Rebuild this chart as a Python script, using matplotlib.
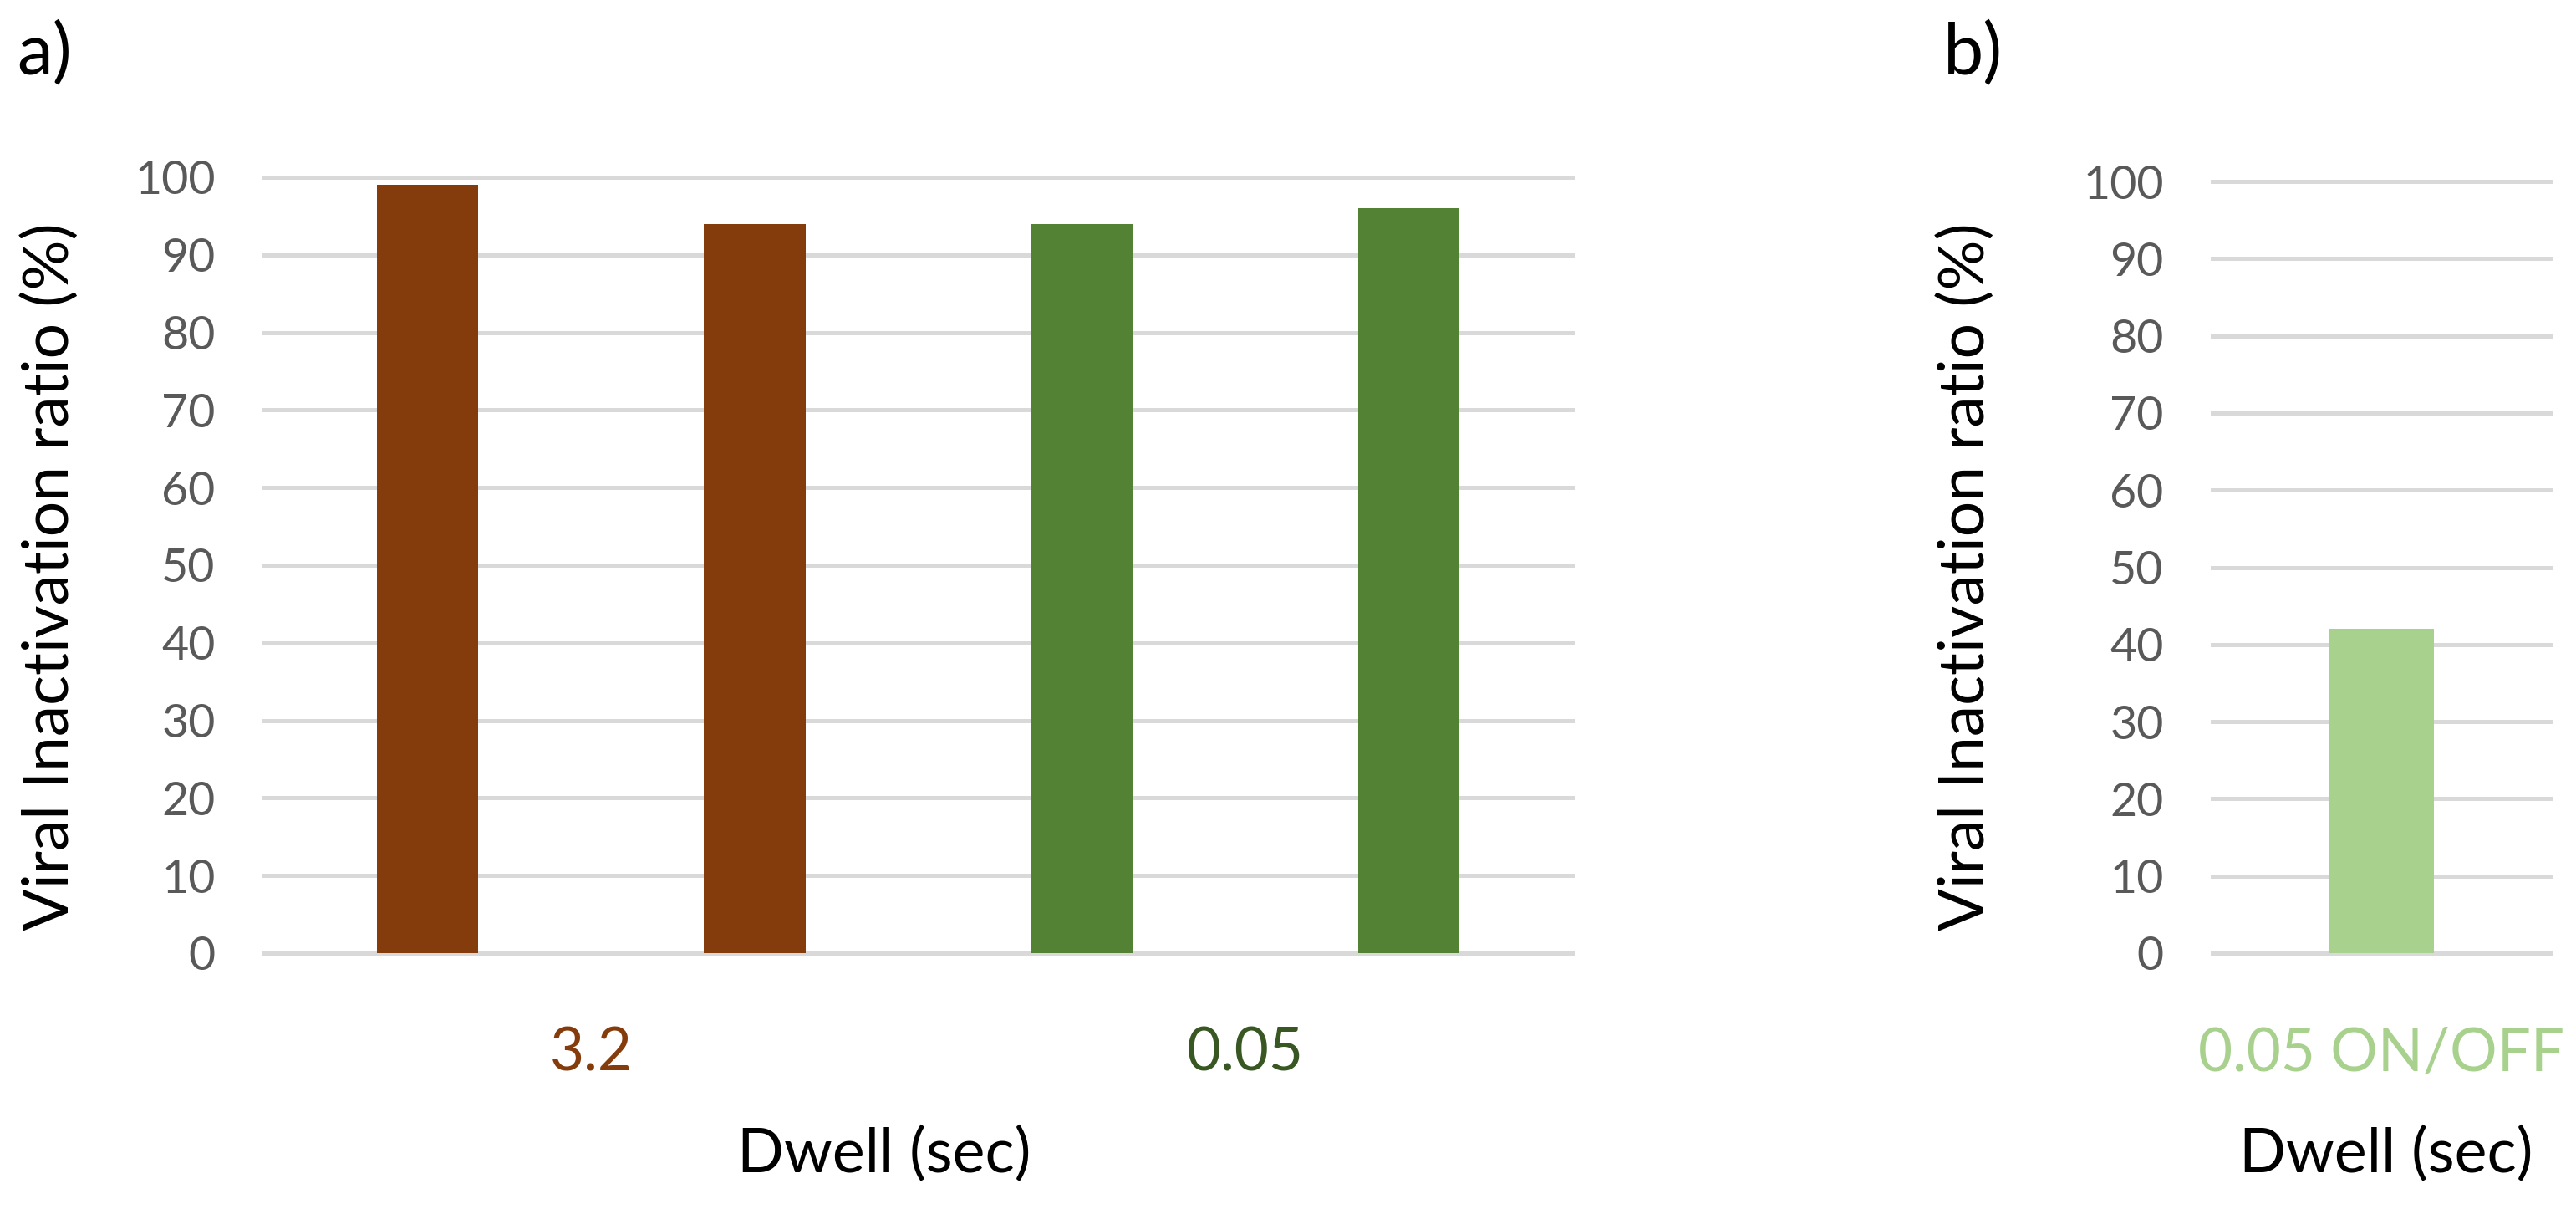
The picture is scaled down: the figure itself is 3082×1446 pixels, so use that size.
"""Viral inactivation ratio vs dwell time, two panels."""
import matplotlib
matplotlib.use('Agg')
import matplotlib.pyplot as plt
import numpy as np

plt.rcParams['font.family'] = ['Lato', 'DejaVu Sans']

# data
dwell_labels = ['3.2', '0.05']
ratio_32 = [99, 94]
ratio_005 = [94, 96]
onoff_label = '0.05 ON/OFF'
ratio_onoff = [42]
yticks = np.arange(0, 101, 10)

BROWN = '#843C0C'
GREEN = '#548235'
DARK_GREEN = '#385723'
LIGHT_GREEN = '#A9D18E'
GRID = '#D9D9D9'
TICK = '#595959'

W, H = 3082, 1446
fig = plt.figure(figsize=(W / 100, H / 100), dpi=100)
ax_a = fig.add_axes([316 / W, 1 - 1140 / H, (1881 - 316) / W, (1140 - 212) / H])
ax_b = fig.add_axes([2647 / W, 1 - 1140 / H, (3051 - 2647) / W, (1140 - 217) / H])


def style(ax):
    ax.set_ylim(0, 100)
    ax.set_yticks(yticks)
    ax.yaxis.grid(True, color=GRID, lw=3.6)
    for gl in ax.get_ygridlines():
        gl.set_clip_on(False)
    ax.set_axisbelow(True)
    for s in ax.spines.values():
        s.set_visible(False)
    ax.tick_params(axis='y', length=0, pad=42, labelsize=40, labelcolor=TICK)
    ax.set_xticks([])


# panel a: two bars per dwell value
style(ax_a)
pos = np.arange(len(ratio_32) + len(ratio_005)) + 0.5
ax_a.bar(pos[:2], ratio_32, width=0.31, color=BROWN, zorder=2)
ax_a.bar(pos[2:], ratio_005, width=0.31, color=GREEN, zorder=2)
ax_a.set_xlim(0, len(pos))
for i, (lab, col) in enumerate(zip(dwell_labels, [BROWN, DARK_GREEN])):
    ax_a.text(2 * i + 1, -0.151, lab, transform=ax_a.get_xaxis_transform(),
              ha='center', va='baseline', fontsize=51, color=col)
ax_a.text(0.474, -0.282, 'Dwell (sec)', transform=ax_a.transAxes,
          ha='center', va='baseline', fontsize=53)

# panel b: ON/OFF
style(ax_b)
ax_b.bar([0.5], ratio_onoff, width=0.31, color=LIGHT_GREEN, zorder=2)
ax_b.set_xlim(0, 1)
ax_b.text(0.5, -0.153, onoff_label, transform=ax_b.get_xaxis_transform(),
          ha='center', va='baseline', fontsize=51, color=LIGHT_GREEN)
ax_b.text(0.515, -0.284, 'Dwell (sec)', transform=ax_b.transAxes,
          ha='center', va='baseline', fontsize=53)

# y labels and panel letters
for xc in (60, 2352):
    fig.text(xc / W, 1 - 690 / H, 'Viral Inactivation ratio (%)', rotation=90,
             ha='center', va='center', fontsize=54)
fig.text(20 / W, 1 - 88 / H, 'a)', fontsize=62, va='baseline')
fig.text(2325 / W, 1 - 88 / H, 'b)', fontsize=62, va='baseline')

fig.savefig('out.png', dpi=100, facecolor='white')
